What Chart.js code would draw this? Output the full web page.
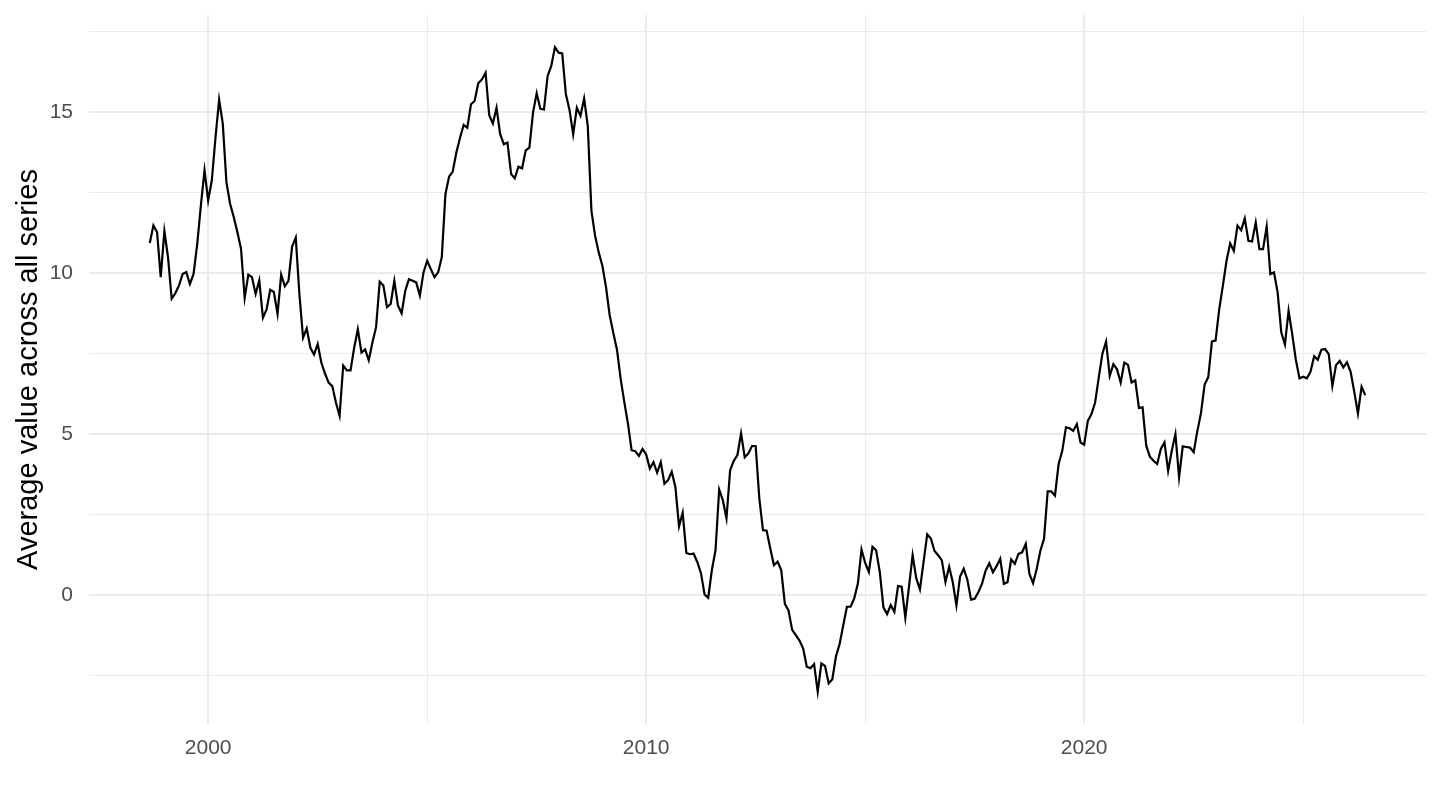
<!DOCTYPE html>
<html>
<head>
<meta charset="utf-8">
<script src="https://cdn.jsdelivr.net/npm/chart.js@4.4.1/dist/chart.umd.min.js"></script>
<style>
  html, body { margin: 0; padding: 0; background: #fff; }
  #wrap { width: 1440px; height: 810px; }
</style>
</head>
<body>
<div id="wrap"><canvas id="avgChart" width="1440" height="810"></canvas></div>
<script>
// monthly series, first point Sep 1998
const startYear = 1998;
const startMonth = 9;
const avgValues = [
    10.93, 11.48, 11.27, 9.87, 11.30, 10.49, 9.20, 9.37, 9.61, 9.97, 10.03, 9.66, 9.97, 10.9, 12.1, 13.19,
    12.25, 12.88, 14.2, 15.38, 14.64, 12.82, 12.15, 11.74, 11.27, 10.75, 9.23, 9.95, 9.87, 9.35, 9.77,
    8.61, 8.87, 9.48, 9.41, 8.73, 9.95, 9.59, 9.76, 10.82, 11.10, 9.33, 7.99, 8.28, 7.68, 7.47, 7.80,
    7.22, 6.88, 6.60, 6.49, 5.98, 5.57, 7.13, 6.98, 6.98, 7.68, 8.25, 7.53, 7.63, 7.29, 7.84, 8.32,
    9.73, 9.61, 8.94, 9.04, 9.76, 8.99, 8.75, 9.45, 9.81, 9.76, 9.71, 9.30, 10.02, 10.38, 10.12, 9.87,
    10.02, 10.49, 12.45, 12.99, 13.15, 13.74, 14.20, 14.60, 14.51, 15.24, 15.34, 15.89, 16.01, 16.22, 14.9,
    14.64, 15.13, 14.31, 14.00, 14.05, 13.07, 12.94, 13.30, 13.25, 13.81, 13.89, 14.98, 15.58, 15.10, 15.08, 16.12,
    16.43, 17.01, 16.84, 16.82, 15.55, 15.06, 14.31, 15.13, 14.88, 15.42, 14.57, 11.93, 11.16, 10.64, 10.23, 9.56,
    8.69, 8.14, 7.62, 6.72, 6.00, 5.33, 4.50, 4.47, 4.32, 4.54, 4.37, 3.93, 4.13, 3.80, 4.13, 3.46,
    3.57, 3.83, 3.36, 2.14, 2.56, 1.31, 1.27, 1.29, 1.03, 0.69, 0.02, -0.08, 0.78, 1.40, 3.28,
    2.95, 2.38, 3.88, 4.17, 4.35, 5.02, 4.28, 4.40, 4.63, 4.63, 3.00, 2.02, 2.00, 1.45, 0.93, 1.04,
    0.78, -0.27, -0.48, -1.08, -1.24, -1.41, -1.65, -2.22, -2.27, -2.14, -3.00, -2.12, -2.20, -2.74, -2.61, -1.9,
    -1.52, -0.93, -0.36, -0.36, -0.10, 0.36, 1.42, 1.00, 0.72, 1.50, 1.39, 0.72, -0.38, -0.59, -0.31, -0.52,
    0.28, 0.26, -0.70, 0.26, 1.24, 0.52, 0.18, 1.03, 1.89, 1.76, 1.37, 1.24, 1.08, 0.41, 0.88,
    0.40, -0.32, 0.58, 0.82, 0.48, -0.14, -0.11, 0.09, 0.35, 0.76, 0.99, 0.71, 0.90, 1.13, 0.35, 0.40,
    1.11, 0.97, 1.28, 1.33, 1.59, 0.66, 0.37, 0.82, 1.38, 1.75, 3.22, 3.22, 3.09, 4.07, 4.48, 5.21,
    5.18, 5.10, 5.31, 4.74, 4.67, 5.41, 5.62, 5.98, 6.76, 7.50, 7.87, 6.81, 7.17, 7.01, 6.60, 7.22,
    7.15, 6.60, 6.67, 5.81, 5.83, 4.64, 4.30, 4.17, 4.07, 4.54, 4.74, 3.86, 4.48, 5.00, 3.66,
    4.62, 4.60, 4.58, 4.44, 5.09, 5.65, 6.54, 6.77, 7.88, 7.90, 8.88, 9.61, 10.38, 10.92, 10.69, 11.47,
    11.33, 11.69, 11.00, 10.98, 11.57, 10.74, 10.74, 11.44, 9.97, 10.02, 9.40, 8.16, 7.78, 8.83, 8.1, 7.3,
    6.73, 6.78, 6.73, 6.93, 7.42, 7.31, 7.62, 7.64, 7.48, 6.49, 7.14, 7.27, 7.07, 7.23, 6.93, 6.31,
    5.64, 6.47, 6.21
];

const xTickYears = [2000, 2005, 2010, 2015, 2020, 2025];
const xLabelYears = [2000, 2010, 2020];
const yTickValues = [-2.5, 0, 2.5, 5, 7.5, 10, 12.5, 15, 17.5];
const yLabelValues = [0, 5, 10, 15];
const yTitle = 'Average value across all series';

const points = avgValues.map((v, i) => ({ x: startYear + (startMonth - 1 + i) / 12, y: v }));

// ggplot-style 5% expansion on both axes
const xFirst = points[0].x;
const xLast = points[points.length - 1].x;
const xPad = (xLast - xFirst) * 0.05;
const yLo = Math.min(...avgValues);
const yHi = Math.max(...avgValues);
const yPad = (yHi - yLo) * 0.05;

const gridMajor = '#EBEBEB';
const fontFamily = '"Liberation Sans", Arial, Helvetica, sans-serif';

const ctx = document.getElementById('avgChart').getContext('2d');

new Chart(ctx, {
    type: 'line',
    data: {
        datasets: [{
            data: points,
            borderColor: '#000000',
            borderWidth: 2.2,
            pointRadius: 0,
            tension: 0,
            fill: false
        }]
    },
    options: {
        responsive: false,
        animation: false,
        devicePixelRatio: 1,
        layout: { padding: { top: 15, right: 14, left: 0, bottom: 0 } },
        plugins: {
            legend: { display: false },
            tooltip: { enabled: false }
        },
        scales: {
            x: {
                type: 'linear',
                min: xFirst - xPad,
                max: xLast + xPad,
                afterBuildTicks: (scale) => { scale.ticks = xTickYears.map(v => ({ value: v })); },
                afterFit: (scale) => {
                    scale.height = 86;
                    scale.paddingLeft = 0;
                    scale.paddingRight = 0;
                },
                border: { display: false },
                grid: {
                    drawTicks: false,
                    color: gridMajor,
                    lineWidth: (c) => xLabelYears.includes(c.tick && c.tick.value) ? 2 : 1
                },
                ticks: {
                    autoSkip: false,
                    maxRotation: 0,
                    padding: 12,
                    color: '#4D4D4D',
                    font: { family: fontFamily, size: 21 },
                    callback: (v) => xLabelYears.includes(v) ? String(v) : ''
                }
            },
            y: {
                min: yLo - yPad,
                max: yHi + yPad,
                afterBuildTicks: (scale) => { scale.ticks = yTickValues.map(v => ({ value: v })); },
                afterFit: (scale) => {
                    scale.width = 89;
                    scale.paddingTop = 0;
                    scale.paddingBottom = 0;
                },
                border: { display: false },
                grid: {
                    drawTicks: false,
                    color: gridMajor,
                    lineWidth: (c) => yLabelValues.includes(c.tick && c.tick.value) ? 2 : 1
                },
                ticks: {
                    autoSkip: false,
                    padding: 16,
                    color: '#4D4D4D',
                    font: { family: fontFamily, size: 21 },
                    callback: (v) => yLabelValues.includes(v) ? String(v) : ''
                },
                title: {
                    display: true,
                    text: yTitle,
                    color: '#000000',
                    padding: { top: 12, bottom: 0 },
                    font: { family: fontFamily, size: 29 }
                }
            }
        }
    }
});
</script>
</body>
</html>
